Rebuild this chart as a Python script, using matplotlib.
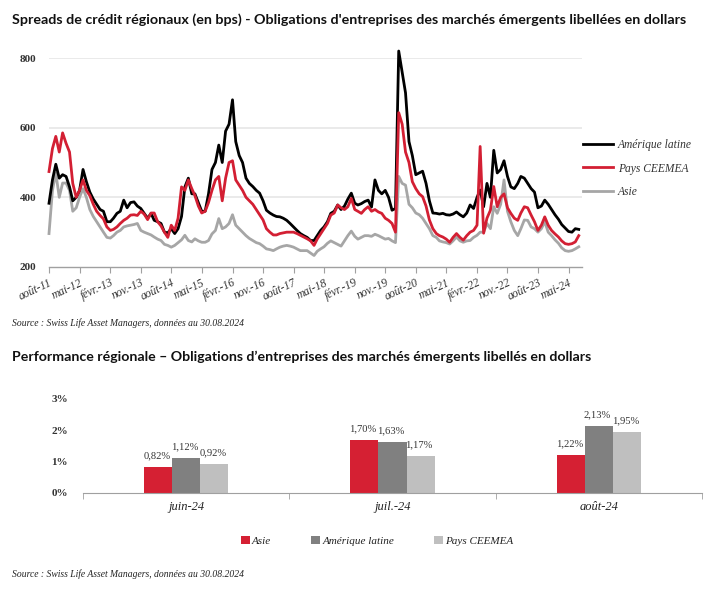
import matplotlib
matplotlib.use('Agg')
import matplotlib.pyplot as plt
import pandas as pd
import numpy as np
from matplotlib.patches import Patch
from matplotlib.lines import Line2D

# ---------------- data: spreads (bps), monthly from Aug 2011 ----------------
start_month = '2011-08-01'
latam = [
    383, 450, 495, 455, 465, 460, 430, 390, 400, 420,
    480, 445, 415, 395, 380, 365, 360, 330, 330, 340,
    354, 360, 392, 370, 385, 387, 375, 368, 354, 340,
    354, 334, 330, 325, 300, 298, 310, 296, 310, 345,
    430, 455, 410, 410, 385, 360, 360, 410, 480, 500,
    550, 500, 590, 610, 680, 560, 520, 500, 455, 440,
    431, 420, 412, 390, 363, 355, 349, 345, 344, 340,
    334, 325, 315, 305, 296, 290, 285, 276, 276, 290,
    305, 315, 330, 354, 360, 378, 365, 375, 395, 412,
    383, 378, 382, 388, 392, 372, 450, 420, 410, 420,
    400, 363, 368, 820, 760, 700, 560, 520, 465, 470,
    475, 440, 390, 355, 354, 352, 354, 350, 349, 352,
    358, 350, 344, 355, 378, 368, 400, 421, 373, 440,
    400, 535, 470, 480, 505, 460, 430, 425, 440, 460,
    455, 440, 425, 415, 370, 375, 392, 380, 365, 350,
    337, 322, 312, 302, 300, 310, 308]
ceemea = [
    474, 540, 575, 530, 585, 555, 530, 440, 400, 420,
    450, 420, 405, 380, 360, 348, 338, 315, 305, 308,
    315, 325, 334, 340, 349, 350, 348, 360, 352, 336,
    355, 355, 330, 318, 300, 285, 320, 305, 340, 430,
    420, 450, 425, 405, 375, 355, 360, 385, 420, 450,
    460, 390, 455, 500, 505, 450, 435, 420, 400, 390,
    380, 365, 350, 335, 310, 300, 292, 292, 296, 298,
    300, 300, 300, 296, 291, 286, 281, 275, 262, 280,
    295, 310, 325, 349, 355, 378, 370, 365, 373, 397,
    365, 360, 354, 365, 373, 360, 365, 358, 354, 340,
    334, 325, 300, 643, 610, 530, 500, 445, 425, 410,
    402, 375, 335, 310, 296, 290, 286, 280, 271, 285,
    296, 285, 277, 290, 300, 305, 320, 546, 297, 340,
    363, 431, 373, 400, 410, 370, 354, 340, 334, 355,
    373, 370, 349, 330, 305, 320, 344, 320, 305, 295,
    286, 275, 267, 265, 267, 272, 290]
asie = [
    296, 420, 470, 400, 441, 441, 420, 360, 370, 400,
    425, 400, 365, 345, 330, 315, 300, 285, 283, 290,
    300, 305, 315, 318, 320, 322, 325, 305, 300, 296,
    292, 286, 280, 276, 265, 262, 257, 262, 270, 278,
    291, 276, 272, 281, 275, 271, 271, 276, 295, 305,
    339, 310, 315, 325, 350, 320, 310, 300, 290, 282,
    276, 270, 267, 260, 252, 250, 247, 252, 257, 260,
    262, 260, 257, 252, 247, 247, 247, 240, 233, 245,
    252, 258, 268, 275, 270, 265, 260, 275, 290, 303,
    288, 280, 285, 290, 290, 288, 294, 290, 285, 280,
    282, 275, 270, 460, 440, 435, 380, 370, 355, 350,
    340, 325, 310, 290, 285, 275, 272, 270, 266, 275,
    286, 275, 271, 275, 276, 285, 291, 300, 300, 325,
    310, 373, 354, 380, 450, 360, 330, 305, 290, 310,
    335, 334, 315, 310, 300, 310, 330, 300, 290, 278,
    268, 255, 247, 245, 247, 252, 258]
series_names = ['Amérique latine', 'Pays CEEMEA', 'Asie']
date_tick_labels = ['août-11', 'mai-12', 'févr.-13', 'nov.-13', 'août-14', 'mai-15',
                    'févr.-16', 'nov.-16', 'août-17', 'mai-18', 'févr.-19', 'nov.-19',
                    'août-20', 'mai-21', 'févr.-22', 'nov.-22', 'août-23', 'mai-24']
spread_ticks = [200, 400, 600, 800]

# ---------------- data: performance (%) ----------------
perf_months = ['juin-24', 'juil.-24', 'août-24']
perf_asie = [0.82, 1.70, 1.22]
perf_latam = [1.12, 1.63, 2.13]
perf_ceemea = [0.92, 1.17, 1.95]
perf_names = ['Asie', 'Amérique latine', 'Pays CEEMEA']

# ---------------- style ----------------
SERIF = 'Liberation Serif'
SANS = 'Lato'
RED = '#D31F33'
BLACK = '#000000'
GREY = '#A6A6A6'
BAR_RED = '#D52033'
BAR_DARK = '#808080'
BAR_LIGHT = '#BFBFBF'
W, H = 721, 595

fig = plt.figure(figsize=(W / 100, H / 100), dpi=100)
fig.patch.set_facecolor('white')


def fx(px):
    return px / W


def fy(py):
    return 1 - py / H


# ---------------- top chart ----------------
dates = pd.date_range(start_month, periods=len(latam), freq='MS')
tick_dates = pd.date_range(start_month, periods=len(date_tick_labels), freq='9MS')

ax1 = fig.add_axes([fx(49), fy(267), fx(582) - fx(49), fy(58) - fy(267)])
for y in spread_ticks[1:]:
    ax1.axhline(y, color='#E8E8E8', lw=1.3, zorder=0)
l1, = ax1.plot(dates, latam, color=BLACK, lw=2.0, clip_on=False, zorder=3)
l2, = ax1.plot(dates, ceemea, color=RED, lw=2.0, clip_on=False, zorder=4)
l3, = ax1.plot(dates, asie, color=GREY, lw=2.0, clip_on=False, zorder=2)
ax1.set_ylim(200, 800)
ax1.set_xlim(pd.Timestamp(start_month), pd.Timestamp('2024-08-30'))
ax1.set_yticks(spread_ticks)
ax1.set_yticklabels([str(v) for v in spread_ticks], fontfamily=SERIF,
                    fontweight='bold', fontsize=8, color='#333333')
ax1.set_xticks(tick_dates)
ax1.set_xticklabels(date_tick_labels, fontfamily=SERIF, fontstyle='italic',
                    fontsize=8.3, color='#333333', rotation=25, ha='right',
                    rotation_mode='anchor')
for s in ['top', 'right', 'left']:
    ax1.spines[s].set_visible(False)
ax1.spines['bottom'].set_color('#A0A0A0')
ax1.spines['bottom'].set_linewidth(1.0)
ax1.tick_params(axis='x', length=4, color='#A0A0A0', pad=3)
ax1.tick_params(axis='y', length=0, pad=9)
ax1.set_facecolor('none')

leg1 = fig.legend([l1, l2, l3], series_names, loc='upper left',
                  bbox_to_anchor=(fx(583), fy(139)), frameon=False,
                  prop={'family': SERIF, 'style': 'italic', 'size': 8.3},
                  handlelength=2.6, handletextpad=0.4, labelspacing=1.0,
                  borderpad=0, borderaxespad=0)
for t in leg1.get_texts():
    t.set_color('#333333')

# ---------------- bottom chart ----------------
ax2 = fig.add_axes([fx(83), fy(493), fx(702) - fx(83), fy(399) - fy(493)])
x = np.arange(len(perf_months))
bw = 0.136
groups = [(perf_asie, BAR_RED), (perf_latam, BAR_DARK), (perf_ceemea, BAR_LIGHT)]
bar_handles = []
for i, (vals, col) in enumerate(groups):
    bars = ax2.bar(x + (i - 1) * bw, vals, width=bw, color=col, zorder=2)
    bar_handles.append(Patch(facecolor=col, edgecolor='none'))
    for b, v in zip(bars, vals):
        ax2.annotate(f'{v:.2f}%'.replace('.', ','),
                     (b.get_x() + b.get_width() / 2, b.get_height()),
                     xytext=(-1, 5), textcoords='offset points', ha='center',
                     va='bottom', fontfamily=SERIF, fontsize=7.6, color='#333333')
ax2.set_xlim(-0.5, len(perf_months) - 0.5)
ax2.set_ylim(0, 3)
ax2.set_yticks([0, 1, 2, 3])
ax2.set_yticklabels([f'{v}%' for v in [0, 1, 2, 3]], fontfamily=SERIF,
                    fontweight='bold', fontsize=8, color='#333333')
ax2.set_xticks(x)
ax2.set_xticklabels(perf_months, fontfamily=SERIF, fontstyle='italic',
                    fontsize=9, color='#222222')
ax2.set_xticks(np.arange(-0.5, len(perf_months)), minor=True)
ax2.tick_params(axis='x', which='major', length=0, pad=6)
ax2.tick_params(axis='x', which='minor', length=4, color='#A0A0A0')
ax2.tick_params(axis='y', length=0, pad=11)
for s in ['top', 'right', 'left']:
    ax2.spines[s].set_visible(False)
ax2.spines['bottom'].set_color('#A0A0A0')

leg2 = fig.legend(bar_handles, perf_names, loc='center',
                  bbox_to_anchor=(fx(377), fy(541)), ncol=3, frameon=False,
                  prop={'family': SERIF, 'style': 'italic', 'size': 8.0},
                  handlelength=0.8, handleheight=0.8, handletextpad=0.2,
                  columnspacing=3.6, borderpad=0, borderaxespad=0)
for t in leg2.get_texts():
    t.set_color('#222222')

# ---------------- texts ----------------
t1 = fig.text(fx(12), fy(20), "Spreads de crédit régionaux (en bps) - Obligations d'entreprises "
              "des marchés émergents libellées en dollars", fontfamily=SANS,
              fontweight='bold', fontsize=10, va='center', ha='left', color='#111111')
t2 = fig.text(fx(12), fy(357), "Performance régionale – Obligations d’entreprises des marchés "
              "émergents libellés en dollars", fontfamily=SANS, fontweight='bold',
              fontsize=10, va='center', ha='left', color='#111111')
s1 = fig.text(fx(12), fy(323), 'Source : Swiss Life Asset Managers, données au 30.08.2024',
              fontfamily=SERIF, fontstyle='italic', fontsize=7.5, va='center',
              ha='left', color='#222222')
s2 = fig.text(fx(12), fy(574), 'Source : Swiss Life Asset Managers, données au 30.08.2024',
              fontfamily=SERIF, fontstyle='italic', fontsize=7.5, va='center',
              ha='left', color='#222222')

fig.canvas.draw()
r = fig.canvas.get_renderer()
for t, target in [(t1, 678), (t2, 581), (s1, 233), (s2, 233)]:
    w = t.get_window_extent(r).width
    t.set_fontsize(t.get_fontsize() * target / w)

fig.savefig('out.png', dpi=100, facecolor='white')
